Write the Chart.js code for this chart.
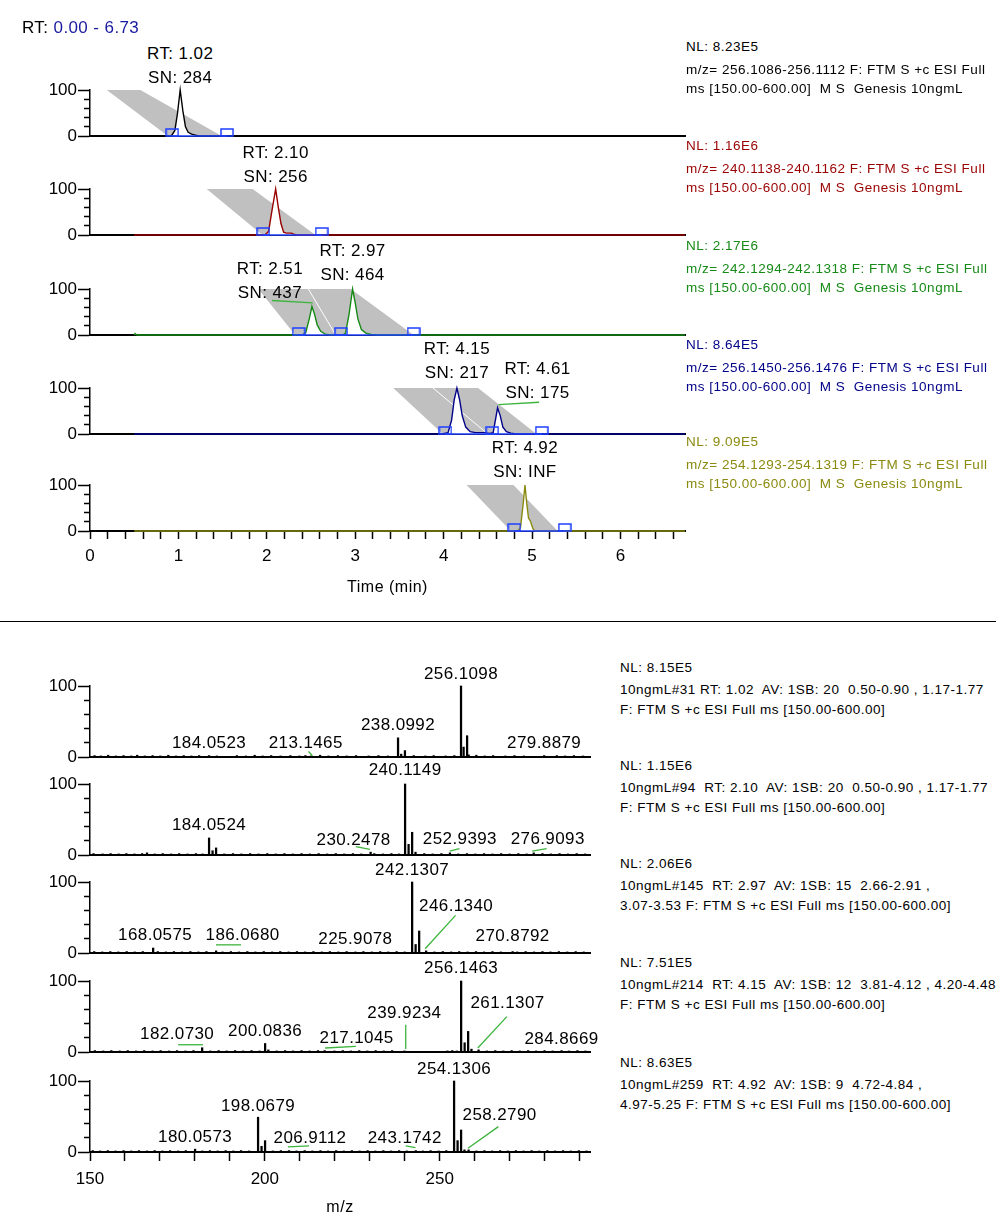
<!DOCTYPE html>
<html><head><meta charset="utf-8">
<script src="https://cdn.jsdelivr.net/npm/chart.js@4.4.0/dist/chart.umd.min.js"></script>
<style>
html,body{margin:0;padding:0;background:#fff;}
#root{position:relative;width:996px;height:1213px;overflow:hidden;font-family:"Liberation Sans",Arial,Helvetica,sans-serif;}
#root canvas{position:absolute;}
.txt{position:absolute;white-space:pre;color:#000;}
.sep{position:absolute;left:0;width:996px;height:1.5px;background:#000;}
</style></head><body><div id="root"></div>
<script>
// ===================== DATA =====================
const rtRangeLabel = 'RT:';
const rtRangeValue = '0.00 - 6.73';
const timeAxisTitle = 'Time (min)';
const mzAxisTitle = 'm/z';
const timeMin = 0, timeMax = 6.73;
const timeTickLabels = ['0','1','2','3','4','5','6'];
const mzMin = 150, mzMax = 293;
const mzTickLabels = ['150','200','250'];
const intensityTicks = [0, 20, 40, 60, 80, 100];
const intensityTickLabels = ['0', '', '', '', '', '100'];

const chromColors = ['#000000','#990000','#168a16','#000088','#8a8a10'];
const chromNL = ['NL: 8.23E5','NL: 1.16E6','NL: 2.17E6','NL: 8.64E5','NL: 9.09E5'];
const chromFilter = [
  'm/z= 256.1086-256.1112 F: FTM S +c ESI Full',
  'm/z= 240.1138-240.1162 F: FTM S +c ESI Full',
  'm/z= 242.1294-242.1318 F: FTM S +c ESI Full',
  'm/z= 256.1450-256.1476 F: FTM S +c ESI Full',
  'm/z= 254.1293-254.1319 F: FTM S +c ESI Full'];
const chromScan = 'ms [150.00-600.00]  M S  Genesis 10ngmL';

// chromatogram traces (time in min, relative abundance %)
const chrom1Time = [0.50, 0.92, 0.96, 0.99, 1.02, 1.05, 1.08, 1.11, 1.15, 1.19, 1.23, 6.73];
const chrom1Int  = [0,    0,    12,   50,   100,  55,   20,   8,    4,    2,    0,    0];
const chrom2Time = [0.50, 1.98, 2.02, 2.06, 2.10, 2.13, 2.16, 2.19, 2.22, 2.28, 2.31, 2.35, 6.73];
const chrom2Int  = [0,    0,    8,    55,   100,  60,   25,   6,    4,    4,    1,    0,    0];
const chrom3Time = [0.50, 0.51, 0.53, 2.40, 2.44, 2.48, 2.51, 2.54, 2.57, 2.61, 2.66, 2.72, 2.86, 2.89, 2.93, 2.97, 3.00, 3.03, 3.07, 3.12, 3.18, 3.25, 6.73];
const chrom3Int  = [0,    3,    0,    0,    5,    35,   62,   45,   22,   8,    2,    0,    0,    4,    45,   100,  70,   35,   12,   4,    1,    0,    0];
const chrom4Time = [0.50, 3.98, 4.05, 4.09, 4.12, 4.15, 4.18, 4.21, 4.25, 4.30, 4.36, 4.46, 4.52, 4.56, 4.59, 4.61, 4.64, 4.67, 4.71, 4.76, 4.82, 6.73];
const chrom4Int  = [0,    0,    3,    30,   75,   100,  75,   40,   15,   5,    3,    3,    1,    3,    35,   57,   40,   15,   5,    2,    0,    0];
const chrom5Time = [0.50, 4.84, 4.87, 4.90, 4.92, 4.94, 4.96, 4.98, 5.01, 5.03, 6.73];
const chrom5Int  = [0,    0,    8,    60,   100,  60,   28,   22,   5,    0,    0];

// peak annotations
const chromPeakTime = [[1.02],[2.10],[2.51,2.97],[4.15,4.61],[4.92]];
const chromPeakRT   = [['1.02'],['2.10'],['2.51','2.97'],['4.15','4.61'],['4.92']];
const chromPeakSN   = [['284'],['256'],['437','464'],['217','175'],['INF']];
// integration boundaries (min) and shaded window polygons (min, %)
const chromBoundaries = [[0.93,1.55],[1.96,2.62],[2.36,2.84,3.66],[4.02,4.55,5.11],[4.80,5.37]];
const chromShadeTime = [[0.19,0.57,1.49,0.88],[1.32,1.84,2.55,1.95],[1.905,2.95,3.66,2.32],[3.43,4.39,5.05,3.99],[4.26,4.79,5.29,4.76]];
const chromShadeInt  = [[100,100,0,0],[100,100,0,0],[100,100,0,0],[100,100,0,0],[100,100,0,0]];
const chromShadeSplit = [[],[],[2.47,100,2.78,0],[3.88,100,4.50,0],[]];
const chromLeaders = [[],[],[[2.06,75,2.52,70]],[[4.62,64,5.08,69]],[]];

// spectra headers
const specNL = ['NL: 8.15E5','NL: 1.15E6','NL: 2.06E6','NL: 7.51E5','NL: 8.63E5'];
const specLine2 = [
  '10ngmL#31 RT: 1.02  AV: 1SB: 20  0.50-0.90 , 1.17-1.77',
  '10ngmL#94  RT: 2.10  AV: 1SB: 20  0.50-0.90 , 1.17-1.77',
  '10ngmL#145  RT: 2.97  AV: 1SB: 15  2.66-2.91 ,',
  '10ngmL#214  RT: 4.15  AV: 1SB: 12  3.81-4.12 , 4.20-4.48',
  '10ngmL#259  RT: 4.92  AV: 1SB: 9  4.72-4.84 ,'];
const specLine3 = [
  'F: FTM S +c ESI Full ms [150.00-600.00]',
  'F: FTM S +c ESI Full ms [150.00-600.00]',
  '3.07-3.53 F: FTM S +c ESI Full ms [150.00-600.00]',
  'F: FTM S +c ESI Full ms [150.00-600.00]',
  '4.97-5.25 F: FTM S +c ESI Full ms [150.00-600.00]'];

// spectra: [m/z, relative abundance %]
const spec1Peaks = [
 [151.3,2],[153.1,1.5],[155.2,2.5],[157.4,1.5],[159.6,2],[161.8,1.5],[163.5,2.5],[165.7,1.5],[167.9,2],[170.1,1.5],[172.4,2.5],[174.6,1.5],[176.8,2],[179.0,1.5],[181.2,2],[184.0523,2],[186.3,1.5],
 [192.0,2],[194.6,1.5],[197.1,2.5],[199.4,1.5],[201.8,2],[204.5,1.5],[207.3,2],[209.9,1.5],[211.6,2],[213.1465,1.5],[215.8,2.5],[218.2,1.5],[220.9,2],[223.4,1.5],[226.1,2],[229.7,1.5],[232.5,2],[235.2,1.5],
 [238.0992,27],[239.0,4],[240.07,9],[242.6,2],[245.9,1.5],[248.3,2],[251.7,1.5],[254.2,2],
 [256.1098,100],[256.85,14],[257.85,30],[258.3,3],
 [260.5,2.5],[262.9,1.5],[265.3,2],[268.8,1.5],[271.4,2],[274.1,1.5],[279.8879,2],[283.5,2],[285.9,1.5],[288.4,2],[291.0,1.5]];
const spec2Peaks = [
 [151.0,2],[153.6,1.5],[155.9,2],[158.2,1.5],[160.4,2],[162.7,1.5],[164.9,2],[166.3,3],[168.5,1.5],[170.8,2],[173.2,1.5],[175.5,2],[177.9,1.5],[180.3,2],[182.2,1.5],
 [184.0524,24],[185.06,6],[186.06,10],[188.4,1.5],[190.9,2],[193.3,1.5],[195.8,2],[198.2,1.5],[200.7,2],[203.1,1.5],[205.6,2],[208.0,1.5],[210.5,2],[212.9,1.5],[215.4,2],[217.8,1.5],[220.3,2],[222.7,1.5],[225.2,2],[227.6,1.5],[230.2478,4],[231.3,2],[233.8,1.5],[236.2,2],[238.4,1.5],
 [240.1149,100],[241.12,15],[242.13,32],[243.1,4],[245.6,2],[248.0,1.5],[250.5,2],[252.9393,3],[255.3,1.5],[257.8,2],[260.2,1.5],[262.7,2],[265.1,1.5],[267.6,2],[270.0,1.5],[272.5,2],[274.9,1.5],[276.9093,3],[279.4,2],[281.8,1.5],[284.3,2],[286.7,1.5],[289.2,2],[291.6,1.5]];
const spec3Peaks = [
 [151.2,2],[153.5,1.5],[155.8,2],[158.1,1.5],[160.5,2],[162.8,1.5],[165.1,2],[168.0575,7],[169.4,2],[171.7,1.5],[174.0,2],[176.3,1.5],[178.7,2],[181.0,1.5],[183.3,2],[186.068,3],[187.9,1.5],[190.3,2],[192.6,1.5],[195.0,2],[197.3,1.5],[199.7,2],[202.1,1.5],[204.4,2],[206.8,1.5],[209.2,2],[211.5,1.5],[213.9,2],[216.3,1.5],[218.6,2],[221.0,1.5],[223.4,2],[225.9078,1.5],[228.2,2],[230.6,1.5],[233.0,2],[235.3,1.5],[237.7,2],[240.0,1.5],
 [242.1307,100],[243.13,12],[244.14,31],[246.134,3],[248.5,1.5],[250.9,2],[253.3,1.5],[255.6,2],[258.0,1.5],[260.4,2],[262.7,1.5],[265.1,2],[267.5,1.5],[270.8792,2],[272.2,1.5],[274.6,2],[277.0,1.5],[279.4,2],[281.7,1.5],[284.1,2],[286.5,1.5],[288.9,2],[291.2,1.5]];
const spec4Peaks = [
 [151.4,2],[153.8,1.5],[156.1,2],[158.5,1.5],[160.8,2],[163.2,1.5],[165.5,2],[167.9,1.5],[170.2,2],[172.6,1.5],[174.9,2],[177.3,1.5],[179.6,2],[182.073,6],[184.4,1.5],[186.8,2],[189.1,1.5],[191.5,2],[193.8,1.5],[196.2,2],[198.5,1.5],[200.0836,12],[201.0,3],[203.4,1.5],[205.8,2],[208.1,1.5],[210.5,2],[212.8,1.5],[215.2,2],[217.1045,2],[219.9,1.5],[222.3,2],[224.6,1.5],[227.0,2],[229.3,1.5],[231.7,2],[234.0,1.5],[236.4,2],[239.9234,1.5],
 [252.2,1.5],[253.6,2],[254.9,1.5],[256.1463,100],[257.15,13],[258.15,29],[259.1,4],[261.1307,3],[263.5,1.5],[265.9,2],[268.2,1.5],[270.6,2],[272.9,1.5],[275.3,2],[277.6,1.5],[280.0,2],[282.3,1.5],[284.8669,2],[287.0,1.5],[289.4,2],[291.7,1.5]];
const spec5Peaks = [
 [150.8,2],[152.9,1.5],[155.1,2],[157.3,1.5],[159.6,2],[161.8,1.5],[164.0,2],[166.3,1.5],[168.5,2],[170.7,1.5],[172.9,2],[175.2,1.5],[177.4,2],[180.0573,4],[182.1,1.5],[184.3,2],[186.5,1.5],[188.8,2],[191.0,1.5],[193.2,2],[195.5,1.5],
 [198.0679,49],[199.07,8],[200.07,16],[202.3,1.5],[204.6,2],[206.9112,2],[209.1,1.5],[211.4,2],[213.6,1.5],[215.9,2],[218.1,1.5],[220.4,2],[222.6,1.5],[224.9,2],[227.1,1.5],[229.4,2],[231.6,1.5],[233.9,2],[236.1,1.5],[238.4,2],[240.6,1.5],[243.1742,2],[245.2,1.5],[247.4,2],[249.7,1.5],[251.9,2],
 [254.1306,100],[255.13,16],[256.13,31],[257.1,3],[258.279,3],[260.5,1.5],[262.8,2],[265.0,1.5],[267.3,2],[269.5,1.5],[271.8,2],[274.0,1.5],[276.3,2],[278.5,1.5],[280.8,2],[283.0,1.5],[285.3,2],[287.5,1.5],[289.8,2],[292.0,1.5]];

const spec1Labels = ['256.1098','238.0992','184.0523','213.1465','279.8879'];
const spec2Labels = ['240.1149','184.0524','230.2478','252.9393','276.9093'];
const spec3Labels = ['242.1307','246.1340','168.0575','186.0680','225.9078','270.8792'];
const spec4Labels = ['256.1463','261.1307','239.9234','217.1045','200.0836','182.0730','284.8669'];
const spec5Labels = ['254.1306','198.0679','258.2790','180.0573','206.9112','243.1742'];

const spec1Leaders = [[212.5,7.9,213.6,1.8]];
const spec2Leaders = [[226.05,11.8,230.06,8.0],[252.86,5.6,255.67,9.0],[276.47,5.6,280.6,9.0]];
const spec3Leaders = [[245.85,6,254.55,53],[186.03,11.5,193.2,11.5]];
const spec4Leaders = [[260.9,5.6,269.23,49.9],[240.3,38.3,240.3,4.2],[217.23,5.6,226.04,7.9],[175.2,10.2,182.3,10.2]];
const spec5Leaders = [[258.1,5.3,266.8,35.7],[206.6,7.3,212.65,8.6],[240.3,8.6,243.07,6.2]];

// ===================== LAYOUT / STYLE =====================
const FONT = '"Liberation Sans", Arial, Helvetica, sans-serif';
const BLUE = '#1f3fff', LEAD = '#3cb43c', SHADE = '#c0c0c0';
const LABEL_SIZE = 17, LABEL_LS = 0.4, HEAD_SIZE = 13.5, HEAD_LS = 0.5, TICK_SIZE = 17;
const chromY100 = [90, 189, 289, 388, 485];
const specY100 = [686, 784, 882, 981, 1081];
const chromLabelOff = [[[0,-37]],[[0,-37]],[[-42,-21],[0,-39]],[[0,-40],[40,-20]],[[0,-38]]];
const specLabelOff = [
  [[0,0],[0,0],[0,0],[-5,0],[0,0]],
  [[0,-2],[0,0],[-17,0],[10,-1],[14,-1]],
  [[0,0],[30,-32],[2,-1],[26.5,-3],[0,0],[0,-3]],
  [[0,-1],[29,-34],[0,-25],[32,0],[0,0],[-25,-1],[0,1]],
  [[0,0],[0,1],[31,-22],[0,0],[21,0],[-11,0]]];

const chromTraces = [[chrom1Time,chrom1Int],[chrom2Time,chrom2Int],[chrom3Time,chrom3Int],[chrom4Time,chrom4Int],[chrom5Time,chrom5Int]];
const specPeaks = [spec1Peaks,spec2Peaks,spec3Peaks,spec4Peaks,spec5Peaks];
const specLabels = [spec1Labels,spec2Labels,spec3Labels,spec4Labels,spec5Labels];
const specLeaders = [spec1Leaders,spec2Leaders,spec3Leaders,spec4Leaders,spec5Leaders];

Chart.defaults.font.family = FONT;
Chart.defaults.font.size = TICK_SIZE;
Chart.defaults.color = '#000';
Chart.defaults.animation = false;
Chart.defaults.events = [];
Chart.defaults.plugins.legend.display = false;
Chart.defaults.plugins.tooltip.enabled = false;

// boundary marker glyph: open box sitting on the baseline
const boxMarker = (function () {
  const w = 12, h = 7;
  const c = document.createElement('canvas');
  c.width = w + 2; c.height = 2 * (h + 1);
  const g = c.getContext('2d');
  g.strokeStyle = BLUE; g.lineWidth = 1.5;
  g.strokeRect(1, 1, w, h);
  return c;
})();

const root = document.getElementById('root');
function addText(str, x, cy, o) {
  o = o || {};
  const d = document.createElement('div');
  d.className = 'txt';
  const fs = o.size || LABEL_SIZE;
  d.style.fontSize = fs + 'px';
  d.style.lineHeight = fs + 'px';
  d.style.top = (cy - fs / 2) + 'px';
  d.style.left = x + 'px';
  if (o.center) d.style.transform = 'translateX(-50%)';
  if (o.color) d.style.color = o.color;
  if (o.ls != null) d.style.letterSpacing = o.ls + 'px';
  if (o.html) d.innerHTML = str; else d.textContent = str;
  root.appendChild(d);
  return d;
}
function makeCanvas(left, top, w, h) {
  const c = document.createElement('canvas');
  c.width = w; c.height = h;
  c.style.left = left + 'px'; c.style.top = top + 'px';
  c.style.width = w + 'px'; c.style.height = h + 'px';
  root.appendChild(c);
  return c;
}
function yAxis() {
  return {
    type: 'linear', position: 'left', min: 0, max: 100,
    afterBuildTicks: s => { s.ticks = intensityTicks.map(v => ({value: v})); },
    ticks: { padding: 1, color: '#000', font: {size: TICK_SIZE}, autoSkip: false,
      callback: v => { const k = intensityTicks.indexOf(v); return k >= 0 ? intensityTickLabels[k] : ''; } },
    grid: { drawOnChartArea: false, drawTicks: true, tickLength: 12, tickColor: '#000', tickWidth: 1.5,
      // long marks at 0 and 100, short (6 px) minor marks elsewhere
      tickBorderDash: c => (c.tick && (c.tick.value === 0 || c.tick.value === 100)) ? [] : [0, 6, 6] },
    border: { display: true, color: '#000', width: 1.5 },
    afterFit: s => { s.width = 90; }
  };
}
function lineDs(pts, color, width, order) {
  return { type: 'line', data: pts, showLine: true, borderColor: color, borderWidth: width,
    pointRadius: 0, fill: false, order: order, clip: false, tension: 0 };
}

// ---------- chromatograms ----------
const PAD_TOP = 12;
for (let i = 0; i < 5; i++) {
  const last = i === 4;
  const PLOT_H = 46, XH = last ? 50 : 14, W = 700, H = PAD_TOP + PLOT_H + XH;
  const top = chromY100[i] - PAD_TOP;
  const cv = makeCanvas(0, top, W, H);
  const [tt, ii] = chromTraces[i];
  const ds = [];
  ds.push({ type: 'line', data: chromBoundaries[i].map(t => ({x: t, y: 0})), showLine: true,
    borderColor: BLUE, borderWidth: 1.5, pointStyle: boxMarker, pointRadius: 6,
    fill: false, order: 0, clip: false });
  chromLeaders[i].forEach(l => ds.push(lineDs([{x: l[0], y: l[1]}, {x: l[2], y: l[3]}], LEAD, 1.3, 0)));
  ds.push({ type: 'line', data: tt.map((t, k) => ({x: t, y: ii[k]})), showLine: true,
    borderColor: chromColors[i], borderWidth: 1.4, pointRadius: 0, fill: 'origin',
    backgroundColor: '#ffffff', order: 1, clip: false, tension: 0 });
  if (chromShadeSplit[i].length) {
    const s = chromShadeSplit[i];
    ds.push(lineDs([{x: s[0], y: s[1]}, {x: s[2], y: s[3]}], '#ffffff', 1, 2));
  }
  ds.push({ type: 'line', data: chromShadeTime[i].map((t, k) => ({x: t, y: chromShadeInt[i][k]})),
    showLine: true, borderWidth: 0, borderColor: 'rgba(0,0,0,0)', backgroundColor: SHADE,
    pointRadius: 0, fill: 'shape', order: 3, tension: 0 });

  const scales = {
    x: { type: 'linear', min: timeMin, max: timeMax, offset: false,
      ticks: { stepSize: 0.2, includeBounds: false, autoSkip: false, maxRotation: 0, minRotation: 0,
        display: last, padding: 7, color: '#000', font: {size: TICK_SIZE},
        callback: v => { const r = Math.round(v); return Math.abs(v - r) < 1e-6 && timeTickLabels[r] !== undefined ? timeTickLabels[r] : ''; } },
      grid: { drawOnChartArea: false, drawTicks: last, tickLength: 8, tickColor: '#000', tickWidth: 1.5 },
      border: { color: '#000', width: 2 },
      afterFit: s => { s.height = XH; } },
    y: yAxis()
  };

  const chart = new Chart(cv, {
    type: 'line',
    data: { datasets: ds },
    options: { responsive: false, maintainAspectRatio: false,
      layout: { padding: { top: PAD_TOP, left: 0, right: W - 685, bottom: 0 } },
      scales: scales }
  });
  const xs = chart.scales.x, ys = chart.scales.y;
  // header
  const col = chromColors[i];
  addText(chromNL[i], 686, chromY100[i] - 43, {size: HEAD_SIZE, color: col, ls: HEAD_LS});
  addText(chromFilter[i], 686, chromY100[i] - 20.5, {size: HEAD_SIZE, color: col, ls: HEAD_LS});
  addText(chromScan, 686, chromY100[i] - 1, {size: HEAD_SIZE, color: col, ls: HEAD_LS});
  // peak labels
  chromPeakTime[i].forEach((t, k) => {
    const off = chromLabelOff[i][k];
    const cx = xs.getPixelForValue(t) + off[0];
    const cy = top + ys.getPixelForValue(100) + off[1];
    addText('RT: ' + chromPeakRT[i][k], cx, cy, {center: true, ls: LABEL_LS});
    addText('SN: ' + chromPeakSN[i][k], cx, cy + 24, {center: true, ls: LABEL_LS});
  });
  if (last) {
    addText(timeAxisTitle, (xs.left + xs.right) / 2, 586.5, {center: true, size: 16, ls: 0.5});
  }
}

// top-left range
addText(rtRangeLabel + ' <span style="color:#1a1aa0">' + rtRangeValue + '</span>', 22, 27, {html: true, ls: LABEL_LS});

// separator
const sep = document.createElement('div');
sep.className = 'sep'; sep.style.top = '620.5px';
root.appendChild(sep);

// ---------- spectra ----------
for (let i = 0; i < 5; i++) {
  const last = i === 4;
  const PLOT_H = 71, XH = last ? 50 : 14, W = 600, H = PAD_TOP + PLOT_H + XH;
  const top = specY100[i] - PAD_TOP;
  const cv = makeCanvas(0, top, W, H);
  const peaks = specPeaks[i];
  const ds = [];
  specLeaders[i].forEach(l => ds.push(lineDs([{x: l[0], y: l[1]}, {x: l[2], y: l[3]}], LEAD, 1.3, 0)));
  ds.push({ type: 'bar', data: peaks.map(p => ({x: p[0], y: p[1]})), backgroundColor: '#000',
    borderWidth: 0, barThickness: 1.6, order: 1, clip: false });

  const scales = {
    x: { type: 'linear', min: mzMin, max: mzMax, offset: false,
      ticks: { stepSize: 10, includeBounds: false, autoSkip: false, maxRotation: 0, minRotation: 0,
        display: last, padding: 8, color: '#000', font: {size: TICK_SIZE},
        callback: v => { const s = String(Math.round(v)); return mzTickLabels.indexOf(s) >= 0 && Math.abs(v - Math.round(v)) < 1e-6 ? s : ''; } },
      grid: { drawOnChartArea: false, drawTicks: last, tickLength: 9, tickColor: '#000', tickWidth: 1.5, offset: false },
      border: { color: '#000', width: 2 },
      afterFit: s => { s.height = XH; } },
    y: yAxis()
  };

  const chart = new Chart(cv, {
    type: 'bar',
    data: { datasets: ds },
    options: { responsive: false, maintainAspectRatio: false,
      layout: { padding: { top: PAD_TOP, left: 0, right: W - 590, bottom: 0 } },
      scales: scales }
  });
  const xs = chart.scales.x, ys = chart.scales.y;
  // header
  addText(specNL[i], 620, specY100[i] - 18.5, {size: HEAD_SIZE, ls: HEAD_LS});
  addText(specLine2[i], 620, specY100[i] + 3.5, {size: HEAD_SIZE, ls: HEAD_LS});
  addText(specLine3[i], 620, specY100[i] + 24, {size: HEAD_SIZE, ls: HEAD_LS});
  // peak labels
  specLabels[i].forEach((lab, k) => {
    const v = parseFloat(lab);
    let h = 0;
    peaks.forEach(p => { if (Math.abs(p[0] - v) < 0.001) h = p[1]; });
    const off = specLabelOff[i][k];
    const cx = xs.getPixelForValue(v) + off[0];
    const cy = top + ys.getPixelForValue(h) - 13 + off[1];
    addText(lab, cx, cy, {center: true, ls: LABEL_LS});
  });
  if (last) {
    addText(mzAxisTitle, (xs.left + xs.right) / 2, 1206.5, {center: true, size: 16, ls: 0.5});
  }
}
</script>
</body></html>
